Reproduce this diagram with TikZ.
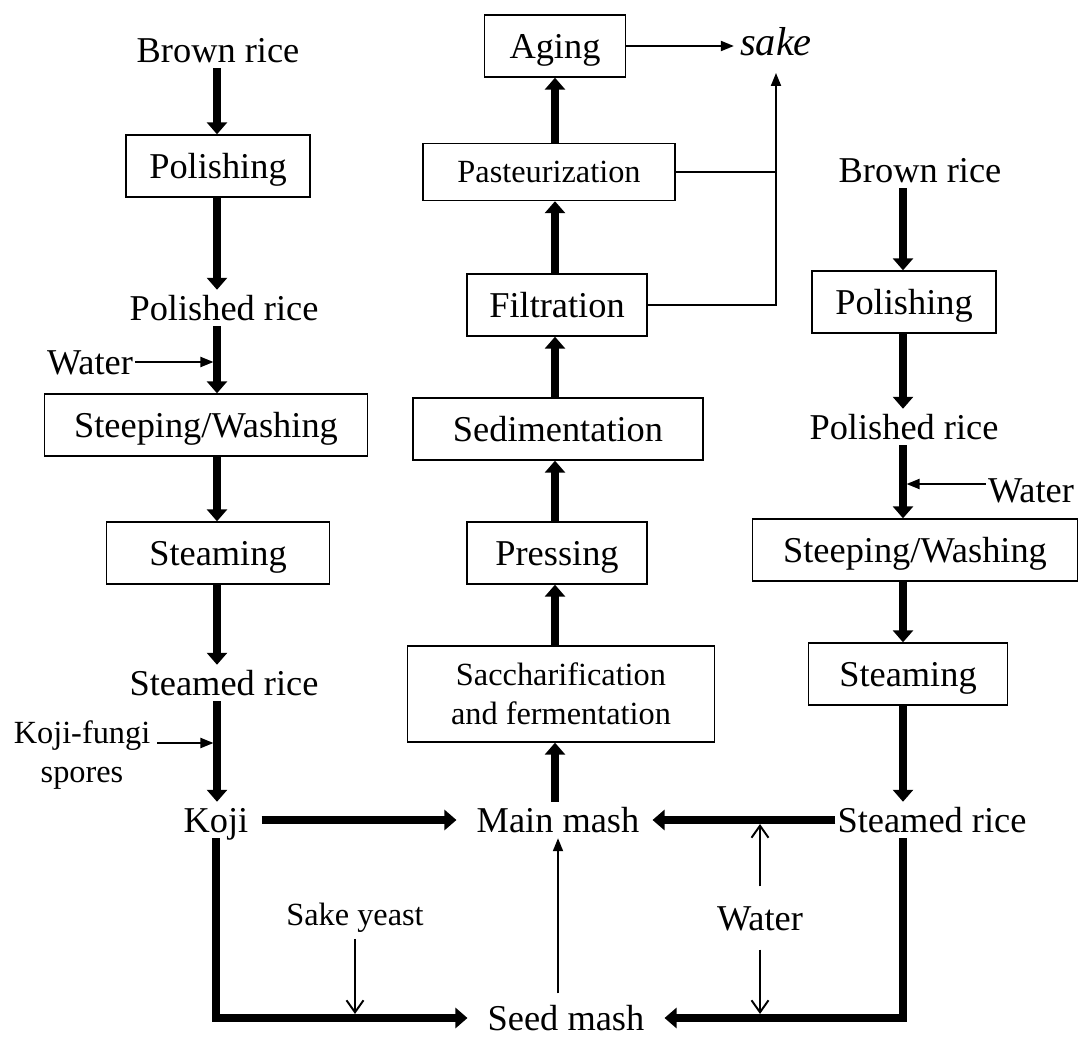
\documentclass[tikz,border=0pt]{standalone}
\usepackage{fontspec}
\setmainfont{Liberation Serif}
\usetikzlibrary{positioning,arrows.meta}

\begin{document}
\begin{tikzpicture}
           [x=0.02cm, y=-0.02cm,
            txt/.style = {font=\fontsize{20.7}{24}\selectfont, text height=13.7pt, text depth=0pt},
            small/.style = {font=\fontsize{18.4}{22.5}\selectfont},
            box/.style = {draw, line width=0.8pt, minimum height=1.24cm, inner sep=2pt},
            big/.style = {line width=4.5pt, -{Triangle[length=0.24cm,width=0.4cm]}},
            thin/.style = {line width=1.1pt, -{Triangle[length=0.26cm,width=0.2cm]}},
            open/.style = {line width=1.1pt, -{Straight Barb[length=0.24cm,width=0.34cm]}}]
            \useasboundingbox (0,0) rectangle (1079,1037);
            \coordinate (c1) at (217,0);
            \coordinate (c2) at (903,0);
            \coordinate (c3) at (555,0);
            \coordinate (kfa) at (157,743);

            \node[txt] (br1) at (218,50) {Brown rice};
            \node[box,txt,minimum width=3.68cm] (pol1) at (218,166) {Polishing};
            \node[txt] (pr1) at (224,308) {Polished rice};
            \node[txt,inner sep=1pt] (w1) at (90,362) {Water};
            \node[box,txt,minimum width=6.46cm] (sw1) at (206,425) {Steeping/Washing};
            \node[box,txt,minimum width=4.46cm] (st1) at (218,553) {Steaming};
            \node[txt] (sr1) at (224,683) {Steamed rice};
            \node[small,align=center] (kf) at (82,755) {Koji-fungi\\spores};
            \node[txt] (koji) at (216,820) {Koji};

            \node[box,txt,minimum width=2.82cm] (age) at (555,46) {Aging};
            \node[font=\itshape\fontsize{23}{27}\selectfont] (sake) at (776,42) {sake};
            \node[box,small,minimum width=5.04cm,minimum height=1.14cm] (pas) at (549,172) {Pasteurization};
            \node[box,txt,minimum width=3.6cm] (fil) at (557,305) {Filtration};
            \node[box,txt,minimum width=5.8cm] (sed) at (558,429) {Sedimentation};
            \node[box,txt,minimum width=3.6cm] (pre) at (557,553) {Pressing};
            \node[box,small,align=center,minimum width=6.14cm,minimum height=1.92cm] (sac) at (561,694) {Saccharification\\and fermentation};
            \node[txt] (mm) at (558,820) {Main mash};
            \node[txt,inner ysep=2pt] (sm) at (566,1018) {Seed mash};
            \node[small] (yeast) at (355,918) {Sake yeast};

            \node[txt] (br2) at (920,170) {Brown rice};
            \node[box,txt,minimum width=3.68cm] (pol2) at (904,302) {Polishing};
            \node[txt] (pr2) at (904,427) {Polished rice};
            \node[txt,inner sep=1pt] (w2) at (1031,490) {Water};
            \node[box,txt,minimum width=6.5cm] (sw2) at (915,550) {Steeping/Washing};
            \node[box,txt,minimum width=3.98cm] (st2) at (908,674) {Steaming};
            \node[txt,inner xsep=1pt] (sr2) at (932,820) {Steamed rice};
            \node[txt,inner ysep=11pt] (w3) at (760,918) {Water};

            \draw[big] (br1.south -| c1) -- (pol1.north -| c1);
            \draw[big] (pol1.south -| c1) -- (pr1.north -| c1);
            \draw[big] (pr1.south -| c1) -- (sw1.north -| c1);
            \draw[thin, shorten >=2pt] (w1.east) -- (w1.east -| c1);
            \draw[big] (sw1.south -| c1) -- (st1.north -| c1);
            \draw[big] (st1.south -| c1) -- (sr1.north -| c1);
            \draw[big] (sr1.south -| c1) -- (koji.north -| c1);
            \draw[thin, shorten >=2pt] (kfa) -- (kfa -| c1);
            \draw[big, shorten <=4pt, shorten >=8pt] (koji.east) -- (mm.west);
            \draw[big, shorten >=8pt] (koji.south) |- (sm.west);
            \draw[open, shorten >=2.3pt] (yeast.south) -- (yeast.south |- sm.west);
            \draw[thin, shorten <=5pt] (sm.north -| mm) -- (mm.south);

            \draw[big] (mm.north -| c3) -- (sac.south -| c3);
            \draw[big] (sac.north -| c3) -- (pre.south -| c3);
            \draw[big] (pre.north -| c3) -- (sed.south -| c3);
            \draw[big] (sed.north -| c3) -- (fil.south -| c3);
            \draw[big] (fil.north -| c3) -- (pas.south -| c3);
            \draw[big] (pas.north -| c3) -- (age.south -| c3);
            \draw[thin] (age.east) -- (age.east -| sake.west);
            \draw[thin, shorten >=6pt] (fil.east) -| (sake.south);
            \draw[line width=1.1pt] (pas.east) -- (pas.east -| sake.south);

            \draw[big] (br2.south -| c2) -- (pol2.north -| c2);
            \draw[big] (pol2.south -| c2) -- (pr2.north -| c2);
            \draw[big] (pr2.south -| c2) -- (sw2.north -| c2);
            \draw[thin, shorten >=2pt] ([yshift=0.12cm]w2.west) -- ([yshift=0.12cm]w2.west -| c2);
            \draw[big] (sw2.south -| c2) -- (st2.north -| c2);
            \draw[big] (st2.south -| c2) -- (sr2.north -| c2);
            \draw[big, shorten >=4pt] (sr2.west) -- (mm.east);
            \draw[big, shorten >=8pt] (sr2.south -| c2) |- (sm.east);
            \draw[open, shorten >=2.3pt] (w3.north) -- (w3.north |- sr2.west);
            \draw[open, shorten >=2.3pt] (w3.south) -- (w3.south |- sm.east);
        \end{tikzpicture}
\end{document}
